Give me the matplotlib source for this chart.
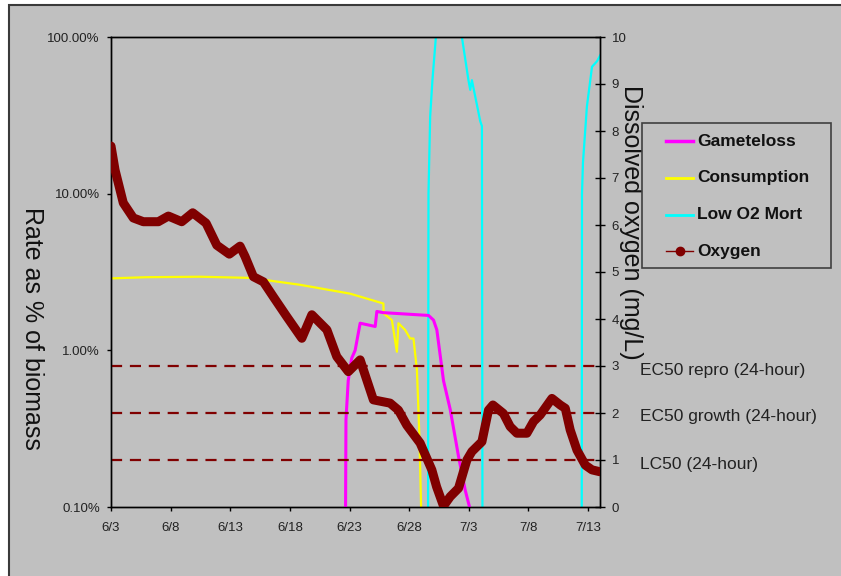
import matplotlib
matplotlib.use("Agg")
import matplotlib.pyplot as plt
from matplotlib.patches import Rectangle
from matplotlib.lines import Line2D
from matplotlib.ticker import FuncFormatter, FixedLocator, NullLocator

plt.rcParams['font.family'] = ['Liberation Sans', 'DejaVu Sans']

# ---------------- data ----------------
# x values are days after 6/3
tick_days = [0, 5, 10, 15, 20, 25, 30, 35, 40]
tick_labels = ["6/3", "6/8", "6/13", "6/18", "6/23", "6/28", "7/3", "7/8", "7/13"]

# Oxygen (mg/L, right axis)
o2_days = [0, 0.34, 1.03, 1.87, 2.71, 3.97, 4.81, 5.93, 6.85, 7.97, 8.87, 9.92,
           10.82, 11.24, 11.94, 12.78, 13.62, 14.74, 16.0, 16.84, 18.1, 18.93,
           19.9, 20.89, 21.45, 22.0, 23.4, 24.1, 24.8, 25.92, 26.9, 27.3, 27.88,
           28.44, 29.14, 29.84, 30.26, 31.1, 31.65, 32.02, 32.9, 33.47, 34.03,
           34.87, 35.43, 35.99, 36.97, 37.67, 38.09, 38.5, 39.07, 39.77, 40.33, 41.0]
oxygen = [7.68, 7.17, 6.47, 6.15, 6.07, 6.07, 6.19, 6.07, 6.26, 6.04, 5.57, 5.38,
          5.55, 5.33, 4.90, 4.79, 4.47, 4.05, 3.59, 4.09, 3.77, 3.20,
          2.88, 3.13, 2.70, 2.28, 2.21, 2.06, 1.74, 1.36, 0.79, 0.43, 0.02,
          0.22, 0.40, 1.00, 1.18, 1.39, 2.06, 2.17, 1.99, 1.71, 1.57,
          1.57, 1.82, 1.96, 2.31, 2.17, 2.10, 1.64, 1.21, 0.89, 0.79, 0.75]

# Consumption (fraction of biomass, left axis)
cons_days = [0, 3.0, 7.47, 11.66, 15.86, 20.05, 22.84, 22.86, 23.55, 23.97, 24.1,
             24.66, 25.08, 25.36, 25.65, 25.86, 26.0, 26.05]
consumption = [0.0288, 0.0293, 0.0295, 0.0290, 0.0262, 0.0230, 0.0199, 0.0172,
               0.0156, 0.0098, 0.0149, 0.0135, 0.0119, 0.0119, 0.0075, 0.0028,
               0.0010, 0.0009]

# Gameteloss (fraction of biomass, left axis)
game_days = [19.55, 19.70, 19.89, 20.18, 20.47, 20.89, 22.15, 22.29, 22.84,
             26.62, 27.04, 27.32, 27.88, 28.44, 29.14, 29.70, 30.06, 30.15]
gameteloss = [0.00001, 0.0036, 0.0064, 0.0089, 0.0100, 0.0149, 0.0142, 0.0177,
              0.0174, 0.0167, 0.0156, 0.0135, 0.0064, 0.0042, 0.0021, 0.00128,
              0.0010, 0.00001]

# Low O2 mortality (fraction of biomass, left axis)
mort_days = [26.55, 26.62, 26.76, 26.95, 27.24, 27.6, 28.02, 28.5, 29.42, 29.97,
             30.12, 30.26, 30.96, 31.10, 31.18, 31.25, 39.45, 39.49, 39.57, 39.90,
             40.33, 40.75, 41.03]
low_o2_mort = [0.00001, 0.10, 0.31, 0.53, 1.0, 2.0, 1.0, 2.0, 1.0, 0.53,
               0.46, 0.53, 0.29, 0.27, 0.00001, 0.00001, 0.00001, 0.10, 0.157,
               0.359, 0.646, 0.70, 0.767]

# Threshold lines (mg/L)
thresholds = [3, 2, 1]
threshold_labels = ["EC50 repro (24-hour)", "EC50 growth (24-hour)", "LC50 (24-hour)"]

# ---------------- figure ----------------
W, H = 841, 576
fig = plt.figure(figsize=(W / 100, H / 100), dpi=100, facecolor="white")

def fx(x):
    return x / W

def fy(y):
    return 1 - y / H

# outer chart frame
fig.patches.append(Rectangle((fx(9), fy(600)), fx(900), fy(5) - fy(600),
                             transform=fig.transFigure, facecolor="#c0c0c0",
                             edgecolor="#3a3a3a", linewidth=1.5, zorder=-10))

L, T, R, B = 111, 37, 600, 507
ax = fig.add_axes([fx(L), fy(B), fx(R - L), fy(T) - fy(B)])
ax.set_facecolor("#c0c0c0")
ax.set_yscale("log")
ax.set_ylim(0.001, 1.0)
ax.set_xlim(0, 41)

ax.plot(cons_days, consumption, color="#ffff00", lw=1.6, zorder=2, solid_joinstyle="round")
ax.plot(mort_days, low_o2_mort, color="#00ffff", lw=1.6, zorder=2, solid_joinstyle="round")
ax.plot(game_days, gameteloss, color="#ff00ff", lw=2.2, zorder=3, solid_joinstyle="round")

ax.yaxis.set_major_locator(FixedLocator([0.001, 0.01, 0.1, 1.0]))
ax.yaxis.set_minor_locator(NullLocator())
ax.yaxis.set_major_formatter(FuncFormatter(lambda v, p: f"{v:.2%}"))
ax.set_xticks(tick_days)
ax.set_xticklabels(tick_labels)
ax.tick_params(axis="both", which="major", labelsize=9.5, labelcolor="#222222",
               direction="out", length=3, width=1, color="black")
ax.tick_params(axis="y", pad=5)
ax.tick_params(axis="x", pad=8)
for s in ax.spines.values():
    s.set_color("black")
    s.set_linewidth(1.0)

ax2 = ax.twinx()
ax2.set_ylim(0, 10)
ax2.set_yticks(range(0, 11))
ax2.tick_params(axis="y", labelsize=9.5, labelcolor="#222222", direction="inout",
                length=7, width=1, color="black", pad=5)
for s in ax2.spines.values():
    s.set_color("black")
    s.set_linewidth(1.0)

for th in thresholds:
    ax2.axhline(th, color="#800000", lw=1.6, dashes=(5, 3.5), zorder=1)

ax2.plot(o2_days, oxygen, color="#800000", lw=6.5, solid_joinstyle="round",
         solid_capstyle="round", zorder=5)

for th, lab in zip(thresholds, threshold_labels):
    fig.text(fx(640), fy(B - th * (B - T) / 10 + 4), lab, fontsize=12.5,
             color="#222222", ha="left", va="center")

# axis titles
fig.text(fx(32), fy(207), "Rate as % of biomass", rotation=270, fontsize=18,
         ha="center", va="top", color="#111111")
fig.text(fx(631), fy(85), "Dissolved oxygen (mg/L)", rotation=270, fontsize=18,
         ha="center", va="top", color="#111111")

# legend
fig.patches.append(Rectangle((fx(642), fy(268)), fx(831 - 642), fy(123) - fy(268),
                             transform=fig.transFigure, facecolor="#c0c0c0",
                             edgecolor="#404040", linewidth=1.2, zorder=6))
leg_items = [("Gameteloss", "#ff00ff", 2.5, None),
             ("Consumption", "#ffff00", 2.0, None),
             ("Low O2 Mort", "#00ffff", 2.0, None),
             ("Oxygen", "#800000", 1.0, "o")]
for i, (lab, col, lw, mk) in enumerate(leg_items):
    yy = 141 + i * 36.8
    fig.lines.append(Line2D([fx(666), fx(693)], [fy(yy), fy(yy)], transform=fig.transFigure,
                            color=col, lw=lw, zorder=7))
    if mk:
        fig.lines.append(Line2D([fx(679.5)], [fy(yy)], transform=fig.transFigure,
                                color=col, marker="o", markersize=6, lw=0, zorder=7))
    fig.text(fx(697), fy(yy), lab, fontsize=12.5, fontweight="bold", color="#111111",
             ha="left", va="center", zorder=7)

fig.savefig("out.png", dpi=100, facecolor="white")
